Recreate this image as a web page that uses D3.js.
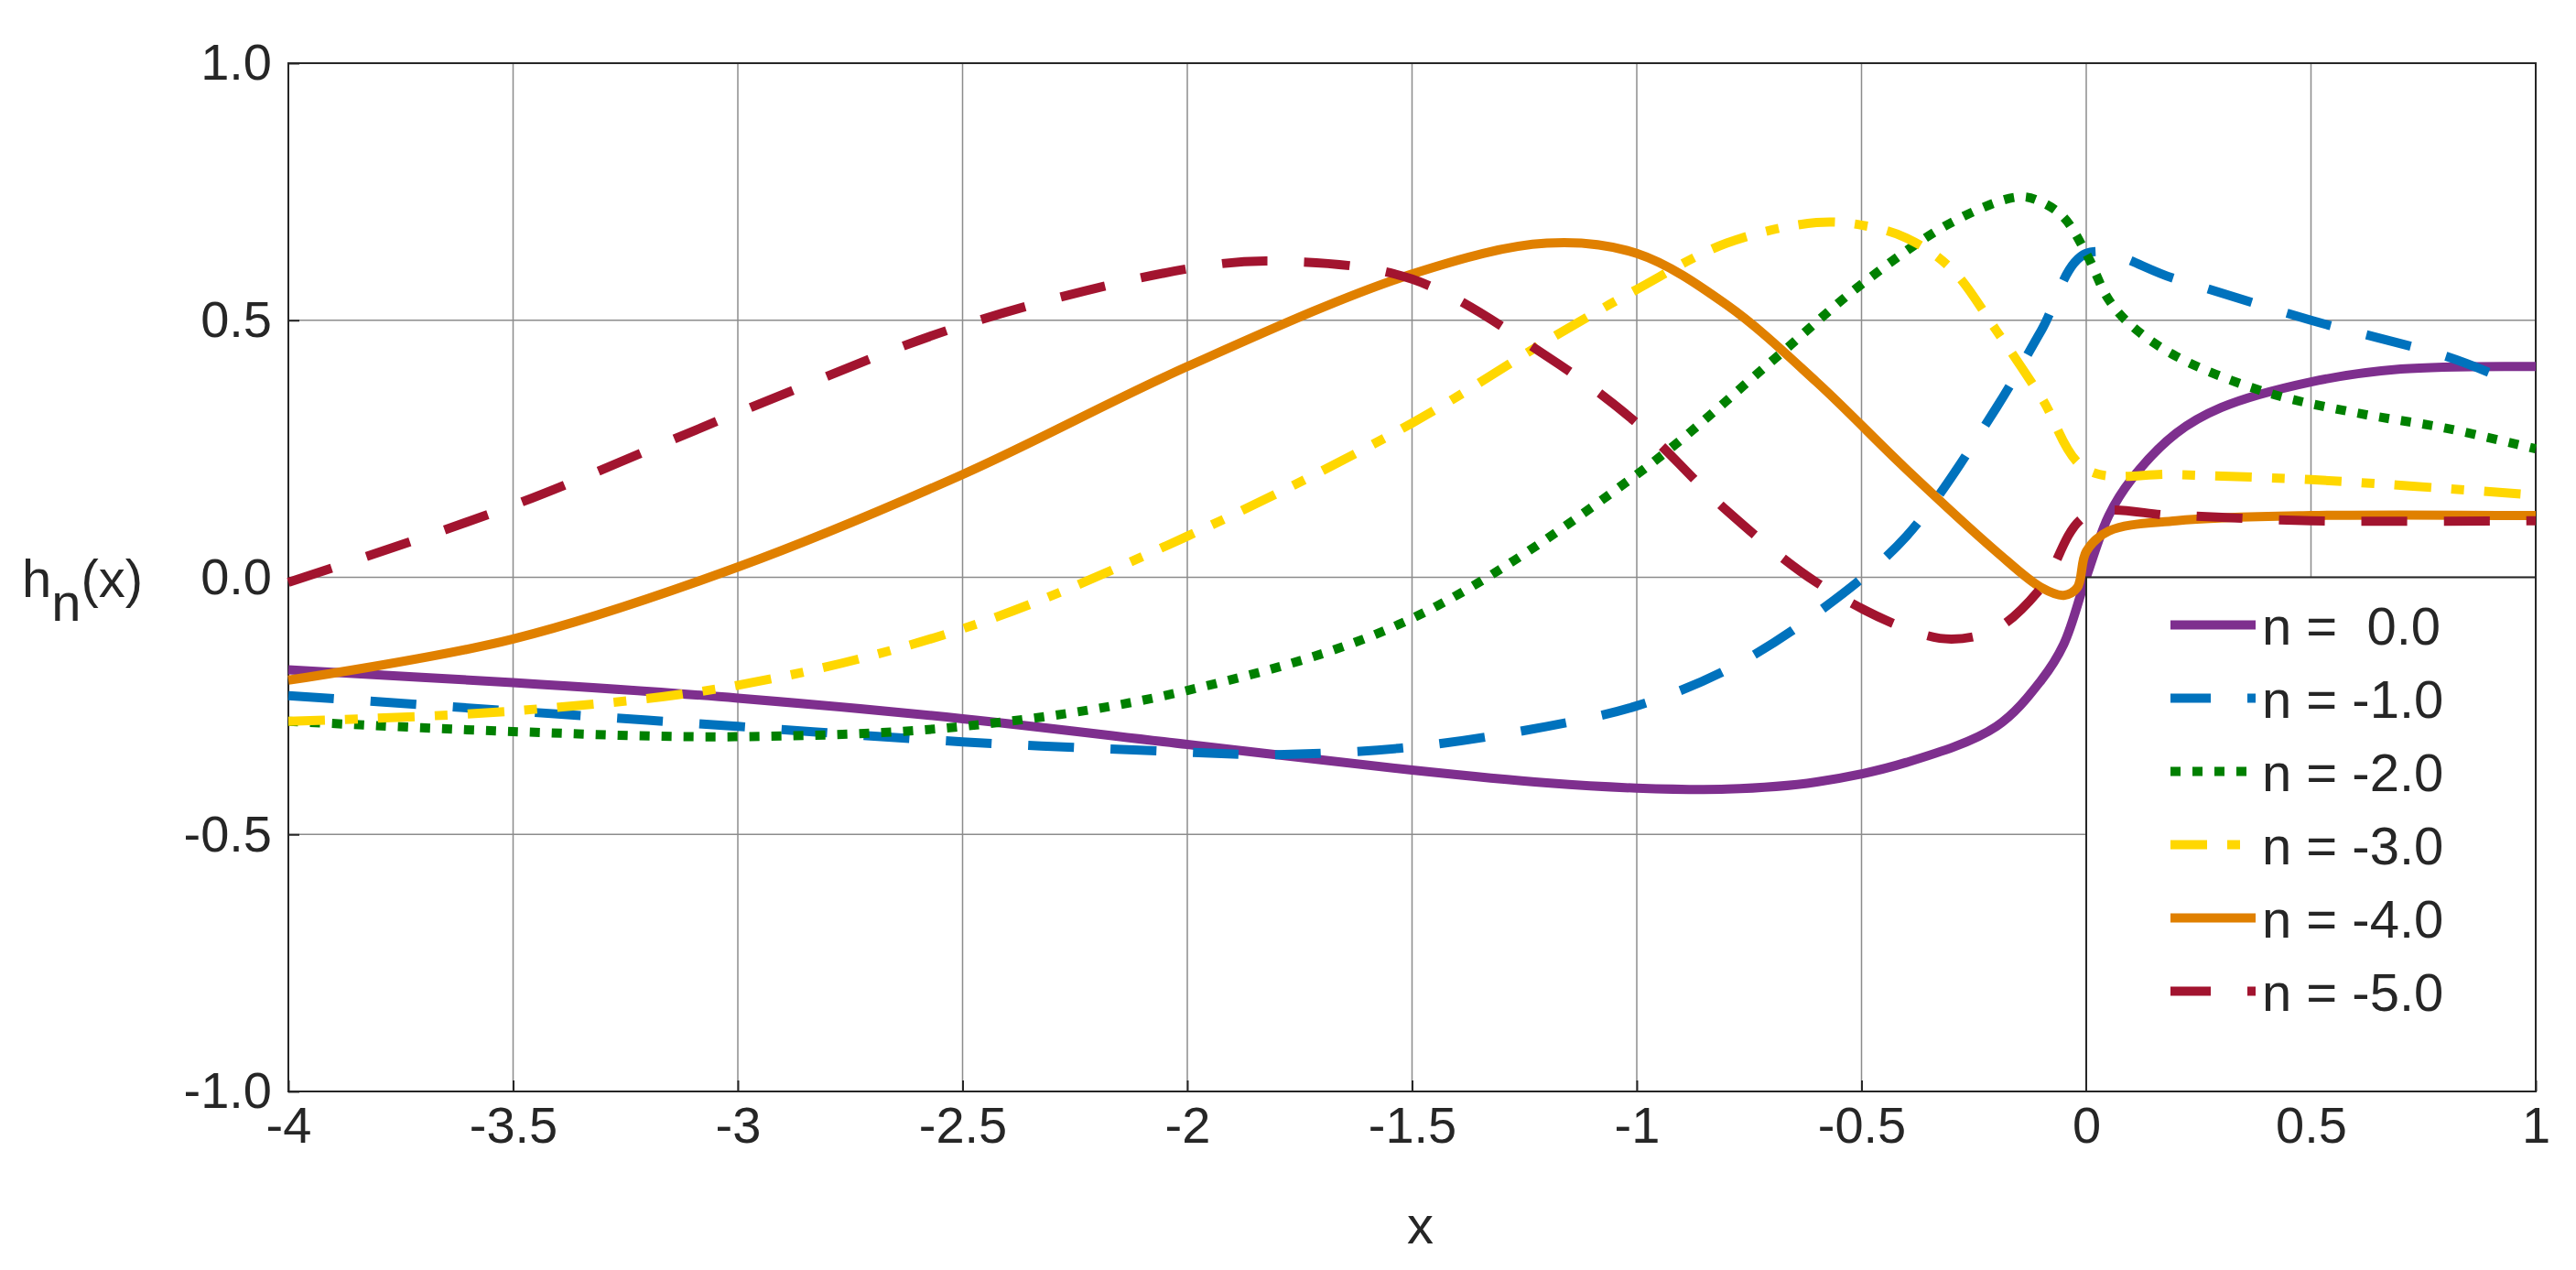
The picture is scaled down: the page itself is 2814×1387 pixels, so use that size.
<!DOCTYPE html>
<html>
<head>
<meta charset="utf-8">
<script src="https://cdn.jsdelivr.net/npm/d3@7"></script>
<style>
body { margin: 0; background: #fff; }
text { font-family: "Liberation Sans", Arial, sans-serif; fill: #262626; }
</style>
</head>
<body>
<div id="chart"></div>
<script>
// series data: [x, h]
var n0 = [[-4,-0.18],[-3.5,-0.205],[-3,-0.235],[-2.5,-0.275],[-2,-0.325],[-1.5,-0.375],[-1.2,-0.4],[-1,-0.41],[-0.8,-0.412],[-0.6,-0.398],[-0.4,-0.36],[-0.2,-0.29],[-0.1,-0.2],[-0.05,-0.13],[0,0],[0.05,0.12],[0.1,0.19],[0.2,0.28],[0.3,0.33],[0.5,0.38],[0.7,0.405],[1,0.41]]
var n1 = [[-4,-0.23],[-3.5,-0.26],[-3,-0.29],[-2.5,-0.32],[-2,-0.34],[-1.8,-0.345],[-1.5,-0.33],[-1.2,-0.29],[-1,-0.25],[-0.8,-0.18],[-0.6,-0.07],[-0.4,0.08],[-0.2,0.33],[-0.1,0.48],[0,0.63],[0.2,0.58],[0.5,0.5],[0.8,0.43],[0.92,0.39]]
var n2 = [[-4,-0.28],[-3.5,-0.3],[-3,-0.31],[-2.5,-0.29],[-2,-0.22],[-1.5,-0.08],[-1,0.2],[-0.7,0.42],[-0.5,0.57],[-0.3,0.69],[-0.15,0.74],[-0.1,0.73],[-0.05,0.7],[0,0.63],[0.05,0.54],[0.1,0.49],[0.2,0.43],[0.4,0.36],[0.6,0.32],[0.8,0.29],[1,0.25]]
var n3 = [[-4,-0.28],[-3.5,-0.26],[-3,-0.21],[-2.5,-0.1],[-2,0.08],[-1.5,0.3],[-1.2,0.46],[-1,0.56],[-0.8,0.65],[-0.6,0.69],[-0.5,0.685],[-0.4,0.66],[-0.3,0.6],[-0.2,0.48],[-0.1,0.35],[0,0.21],[0.2,0.2],[0.5,0.19],[1,0.16]]
var n4 = [[-4,-0.2],[-3.5,-0.12],[-3,0.02],[-2.5,0.2],[-2,0.41],[-1.5,0.59],[-1.2,0.65],[-1,0.63],[-0.8,0.53],[-0.6,0.38],[-0.4,0.21],[-0.2,0.05],[-0.1,-0.02],[-0.05,-0.035],[-0.02,-0.02],[0,0.05],[0.05,0.09],[0.2,0.11],[0.5,0.12],[1,0.12]]
var n5 = [[-4,-0.01],[-3.5,0.14],[-3,0.32],[-2.5,0.49],[-2,0.6],[-1.8,0.615],[-1.5,0.58],[-1.2,0.43],[-1,0.3],[-0.8,0.13],[-0.6,-0.01],[-0.4,-0.1],[-0.3,-0.12],[-0.2,-0.1],[-0.1,-0.02],[0,0.12],[0.2,0.12],[0.5,0.11],[1,0.11]]

var seriesData = [n0, n1, n2, n3, n4, n5]
var labels = ["n =  0.0", "n = -1.0", "n = -2.0", "n = -3.0", "n = -4.0", "n = -5.0"]
var colors = ["#7E2F8E", "#0072BD", "#008000", "#FFD700", "#E08000", "#A2142F"]
var dashes = [null, "50,40", "11,13", "40,22,14,22", null, "50,40"]
var xTicks = [-4, -3.5, -3, -2.5, -2, -1.5, -1, -0.5, 0, 0.5, 1]
var yTicks = [-1, -0.5, 0, 0.5, 1]

var W = 2814, H = 1387
var margin = { top: 69, right: 44, bottom: 195, left: 315 },
	width = W - margin.left - margin.right,
	height = H - margin.top - margin.bottom;

var svg = d3.select("#chart").append("svg")
	.attr("width", W)
	.attr("height", H);

var g = svg.append("g")
	.attr("transform", "translate(" + margin.left + "," + margin.top + ")");

var x = d3.scaleLinear().domain([-4, 1]).range([0, width])
var y = d3.scaleLinear().domain([-1, 1]).range([height, 0])

var fmtX = d => String(d)
var fmtY = d => d.toFixed(1)

// grid
g.append("g").selectAll("line").data(xTicks).enter().append("line")
	.attr("x1", d => x(d)).attr("x2", d => x(d))
	.attr("y1", 0).attr("y2", height)
	.attr("stroke", "#8c8c8c").attr("stroke-width", 1.5)
g.append("g").selectAll("line").data(yTicks).enter().append("line")
	.attr("y1", d => y(d)).attr("y2", d => y(d))
	.attr("x1", 0).attr("x2", width)
	.attr("stroke", "#8c8c8c").attr("stroke-width", 1.5)

var xAxis = g.append("g")
	.attr("transform", "translate(0," + height + ")")
	.call(d3.axisBottom(x).tickValues(xTicks).tickSize(-12).tickPadding(16).tickFormat(fmtX))
var yAxis = g.append("g")
	.call(d3.axisLeft(y).tickValues(yTicks).tickSize(-12).tickPadding(18).tickFormat(fmtY))
;[xAxis, yAxis].forEach(function (a) {
	a.select(".domain").remove()
	a.selectAll("line").attr("stroke", "#262626").attr("stroke-width", 2)
	a.selectAll("text").style("font-size", "56px").attr("fill", "#262626")
})

g.append("rect")
	.attr("width", width).attr("height", height)
	.attr("fill", "none").attr("stroke", "#262626").attr("stroke-width", 2)

var line = d3.line().x(d => x(d[0])).y(d => y(d[1])).curve(d3.curveCatmullRom.alpha(0.5))

seriesData.forEach(function (s, i) {
	g.append("path")
		.datum(s)
		.attr("d", line)
		.attr("fill", "none")
		.attr("stroke", colors[i])
		.attr("stroke-width", 10)
		.attr("stroke-dasharray", dashes[i])
})

// legend
var lx = x(0), ly = y(0)
var legend = g.append("g")
legend.append("rect")
	.attr("x", lx).attr("y", ly)
	.attr("width", width - lx).attr("height", height - ly)
	.attr("fill", "#fff").attr("stroke", "#262626").attr("stroke-width", 2)
labels.forEach(function (l, i) {
	var yy = ly + 52 + i * 80
	legend.append("line")
		.attr("x1", lx + 92).attr("x2", lx + 185)
		.attr("y1", yy).attr("y2", yy)
		.attr("stroke", colors[i]).attr("stroke-width", 10)
		.attr("stroke-dasharray", i == 1 || i == 5 ? "44,40,12" : dashes[i])
	legend.append("text")
		.attr("x", lx + 192).attr("y", yy + 21)
		.style("font-size", "58px").attr("fill", "#000")
		.attr("xml:space", "preserve")
		.text(l)
})

// axis titles
svg.append("text")
	.attr("x", margin.left + width / 2 + 9)
	.attr("y", 1358).attr("text-anchor", "middle")
	.style("font-size", "58px").text("x")
var yl = svg.append("text")
	.attr("x", 24).attr("y", 652)
	.style("font-size", "58px")
yl.append("tspan").text("h")
yl.append("tspan").attr("dy", 26).text("n")
yl.append("tspan").attr("dy", -26).text("(x)")
</script>
</body>
</html>
